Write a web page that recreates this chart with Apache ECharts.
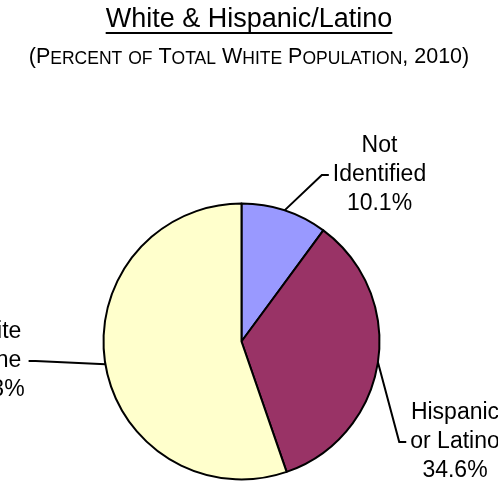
<!DOCTYPE html>
<html>
<head>
<meta charset="utf-8">
<script src="https://cdn.jsdelivr.net/npm/echarts@6/dist/echarts.min.js"></script>
<style>
  html, body { margin: 0; padding: 0; background: #fff; }
  #chart { width: 498px; height: 484px; }
</style>
</head>
<body>
<div id="chart"></div>
<script>
// Chart text
const titleText = 'White & Hispanic/Latino';
const subtitleText = '(Percent of Total White Population, 2010)';

// Pie data
const categories = ['Not\nIdentified', 'Hispanic\nor Latino', 'White\nAlone'];
const values = [10.1, 34.6, 55.3];

// Styling
const colors = ['#9999FF', '#993366', '#FFFFCC'];
const FONT = '"Liberation Sans", Arial, Helvetica, sans-serif';
const pieCenter = [241.5, 341.5];
const pieRadius = 138;
// where each label sits, relative to the pie centre
const labelOffsets = [[138, -166.5], [213.5, 100.5], [-249.5, 19.5]];

// Render a string as small caps with rich-text runs: capitals big, lowercase as small capitals
function smallCaps(str) {
  let out = '', run = '', runStyle = null;
  const flush = () => { if (run) { out += '{' + runStyle + '|' + run + '}'; run = ''; } };
  for (const ch of str) {
    const isLower = ch !== ch.toUpperCase();
    const style = isLower ? 's' : 'b';
    if (style !== runStyle) { flush(); runStyle = style; }
    run += isLower ? ch.toUpperCase() : ch;
  }
  flush();
  return out;
}

// Width of the title, for its underline
const measureCtx = document.createElement('canvas').getContext('2d');
measureCtx.font = '27px ' + FONT;
const titleWidth = measureCtx.measureText(titleText).width;

const chart = echarts.init(document.getElementById('chart'), null, { renderer: 'canvas' });

chart.setOption({
  backgroundColor: '#ffffff',
  animation: false,
  title: {
    text: titleText,
    subtext: smallCaps(subtitleText),
    left: 'center',
    top: 6,
    padding: 0,
    itemGap: 14,
    textStyle: { fontFamily: FONT, fontSize: 27, fontWeight: 'normal', color: '#000' },
    subtextStyle: {
      fontFamily: FONT,
      color: '#000',
      rich: {
        b: { fontFamily: FONT, fontSize: 21.5, lineHeight: 21.5, verticalAlign: 'bottom', color: '#000' },
        s: { fontFamily: FONT, fontSize: 17.5, lineHeight: 17.5, verticalAlign: 'bottom', color: '#000' }
      }
    }
  },
  graphic: [{
    type: 'rect',
    left: 'center',
    top: 32,
    shape: { width: titleWidth, height: 2 },
    style: { fill: '#000' }
  }],
  series: [{
    type: 'pie',
    center: pieCenter,
    radius: pieRadius,
    startAngle: 90,
    clockwise: true,
    avoidLabelOverlap: false,
    data: categories.map((name, i) => ({ name: name, value: values[i] })),
    color: colors,
    itemStyle: { borderColor: '#000', borderWidth: 2 },
    emphasis: { disabled: true },
    label: {
      show: true,
      position: 'outside',
      formatter: p => p.name + '\n' + p.value.toFixed(1) + '%',
      fontFamily: FONT,
      fontSize: 23,
      lineHeight: 29,
      color: '#000',
      align: 'center'
    },
    labelLine: {
      show: true,
      length: 10,
      length2: 10,
      lineStyle: { color: '#000', width: 2 }
    },
    labelLayout: function (p) {
      const i = p.dataIndex;
      const w = p.labelRect.width;
      const cx = pieCenter[0] + labelOffsets[i][0];
      const cy = pieCenter[1] + labelOffsets[i][1];
      const side = labelOffsets[i][0] >= 0 ? 1 : -1;
      const endX = cx - side * (w / 2 + 4);
      const bendX = endX - side * 7;
      const res = { x: cx, y: cy, align: 'center', verticalAlign: 'middle' };
      if (p.labelLinePoints && p.labelLinePoints.length) {
        res.labelLinePoints = [p.labelLinePoints[0], [bendX, cy], [endX, cy]];
      }
      return res;
    }
  }]
});
</script>
</body>
</html>
